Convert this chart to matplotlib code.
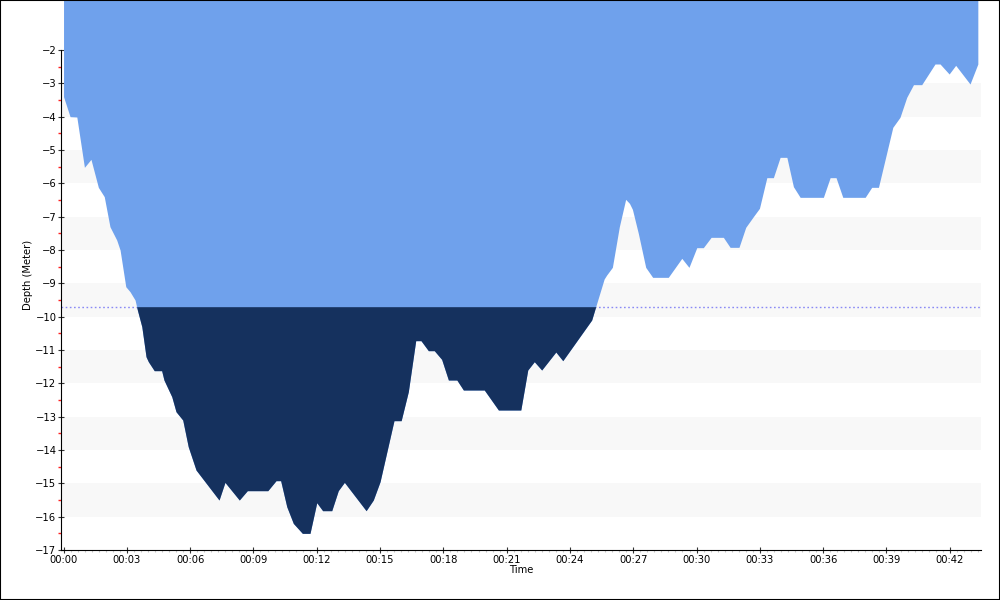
import numpy as np
import matplotlib
matplotlib.use("Agg")
import matplotlib.pyplot as plt
from matplotlib.ticker import MultipleLocator, FuncFormatter
from matplotlib.patches import Rectangle

# dive profile: elapsed time (minutes) and depth (metres, negative = below surface)
time_min = [
    0.00, 0.31, 0.63, 0.99, 1.30, 1.65, 1.93, 2.20, 2.52, 2.68,
    2.95, 3.15, 3.39, 3.50, 3.71, 3.91, 4.02, 4.30, 4.65, 4.76,
    5.13, 5.33, 5.65, 5.91, 6.28, 7.37, 7.65, 8.33, 8.71, 9.68,
    10.07, 10.29, 10.58, 10.89, 11.32, 11.68, 12.00, 12.28, 12.71, 13.02,
    13.31, 14.34, 14.68, 15.00, 15.66, 16.00, 16.34, 16.69, 16.94, 17.29,
    17.57, 17.92, 18.24, 18.64, 18.95, 19.94, 20.61, 21.67, 22.00, 22.31,
    22.66, 23.33, 23.66, 25.03, 25.22, 25.62, 25.74, 26.01, 26.34, 26.64,
    26.82, 26.96, 27.24, 27.59, 27.92, 28.66, 29.30, 29.64, 30.01, 30.32,
    30.69, 31.27, 31.59, 32.01, 32.33, 32.69, 32.98, 33.33, 33.64, 33.96,
    34.28, 34.59, 34.91, 36.01, 36.33, 36.61, 36.93, 37.99, 38.30, 38.62,
    39.30, 39.64, 39.96, 40.28, 40.67, 41.30, 41.54, 41.97, 42.28, 42.96,
    43.33,
]
depth_m = [
    -3.40, -4.00, -4.01, -5.52, -5.28, -6.12, -6.40, -7.30, -7.70, -8.00,
    -9.10, -9.25, -9.50, -9.80, -10.30, -11.20, -11.35, -11.62, -11.62, -11.90,
    -12.40, -12.85, -13.10, -13.90, -14.60, -15.50, -14.97, -15.50, -15.22, -15.22,
    -14.92, -14.92, -15.70, -16.20, -16.50, -16.50, -15.58, -15.82, -15.82, -15.22,
    -14.97, -15.82, -15.50, -14.95, -13.12, -13.12, -12.25, -10.72, -10.72, -11.02,
    -11.02, -11.28, -11.90, -11.90, -12.20, -12.20, -12.80, -12.80, -11.60, -11.35,
    -11.60, -11.06, -11.32, -10.10, -9.70, -8.87, -8.75, -8.52, -7.30, -6.48,
    -6.60, -6.78, -7.50, -8.52, -8.82, -8.82, -8.25, -8.52, -7.93, -7.93,
    -7.62, -7.62, -7.92, -7.92, -7.32, -7.00, -6.75, -5.83, -5.83, -5.22,
    -5.22, -6.10, -6.42, -6.42, -5.83, -5.83, -6.42, -6.42, -6.12, -6.12,
    -4.32, -4.02, -3.42, -3.04, -3.04, -2.42, -2.42, -2.72, -2.46, -3.02,
    -2.42,
]
alarm_depth = -9.7

LIGHT = '#6fa1ec'
DARK = '#15315e'


def fmt_time(v, pos):
    m = int(round(v))
    return f"{m // 60:02d}:{m % 60:02d}"


def main():
    plt.rcParams['font.family'] = ['DejaVu Sans']
    t = np.array(time_min)
    d = np.array(depth_m)
    top = -0.5

    fig = plt.figure(figsize=(10, 6), dpi=100)
    ax = fig.add_axes([0.061, 0.0833, 0.92, 0.9167])

    # alternating background bands
    for lo in range(-16, -2, 2):
        ax.axhspan(lo, lo + 1, color='#f8f8f8', lw=0, zorder=0)

    ax.axhline(alarm_depth, color='#8a8af5', lw=1.0, ls=(0, (1.2, 1.8)), zorder=1)

    ax.fill_between(t, top, d, color=LIGHT, lw=0, zorder=2)
    ax.fill_between(t, alarm_depth, d, where=d < alarm_depth, interpolate=True,
                    color=DARK, lw=0, zorder=3)

    ax.set_xlim(-0.12, 43.48)
    ax.set_ylim(-17, top)

    ax.xaxis.set_major_locator(MultipleLocator(3))
    ax.xaxis.set_minor_locator(MultipleLocator(1 / 3))
    ax.xaxis.set_major_formatter(FuncFormatter(fmt_time))
    ax.set_yticks(np.arange(-17, -1, 1))
    ax.set_yticks(np.arange(-16.5, -2, 1), minor=True)

    ax.tick_params(axis='both', which='major', labelsize=7.2, direction='inout',
                   length=4.5, width=0.8, color='#333333', pad=1)
    ax.tick_params(axis='y', which='minor', direction='out', length=2.5, width=1.0,
                   color='#ff2020')
    ax.tick_params(axis='x', which='minor', direction='out', length=1.5, width=0.8,
                   color='#c8c8c8')

    for s in ['top', 'right']:
        ax.spines[s].set_visible(False)
    ax.spines['left'].set_bounds(-17, -2)
    ax.spines['left'].set_color('black')
    ax.spines['bottom'].set_color('black')

    ax.set_ylabel('Depth (Meter)', fontsize=7.2, labelpad=2)
    ax.set_xlabel('Time', fontsize=7.2, labelpad=0)

    fig.patches.append(Rectangle((0, 0), 1, 1, transform=fig.transFigure,
                                 fill=False, edgecolor='black', lw=1.5))

    fig.savefig('out.png', dpi=100)


if __name__ == '__main__':
    main()
